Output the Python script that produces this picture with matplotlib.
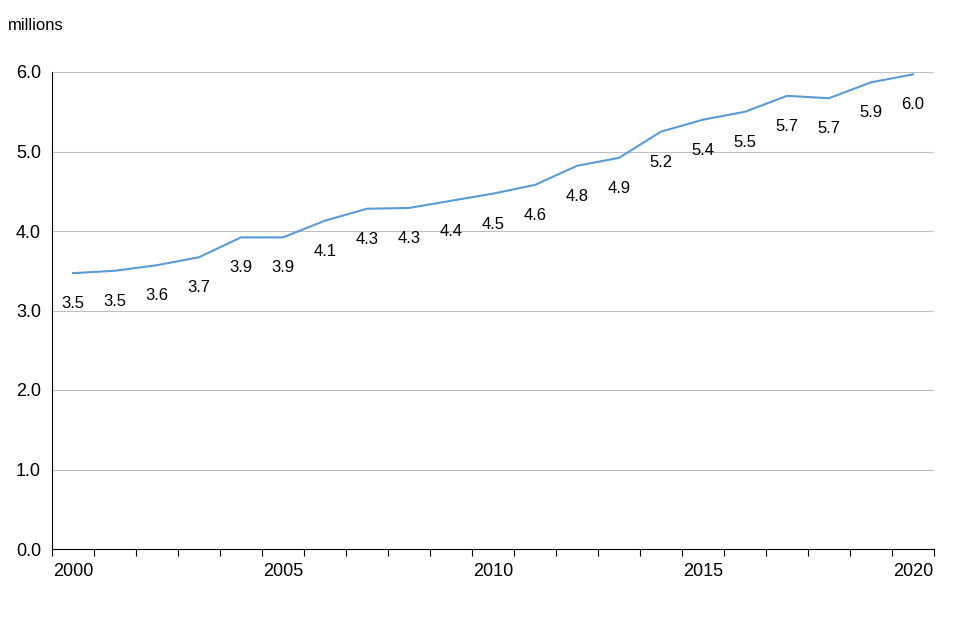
import matplotlib
matplotlib.use("Agg")
from matplotlib import pyplot as plt

years = list(range(2000, 2021))
values = [3.47, 3.50, 3.57, 3.67, 3.92, 3.92, 4.13, 4.28, 4.29, 4.38, 4.47,
          4.58, 4.82, 4.92, 5.25, 5.40, 5.50, 5.70, 5.67, 5.87, 5.97]
labels = ["3.5", "3.5", "3.6", "3.7", "3.9", "3.9", "4.1", "4.3", "4.3", "4.4", "4.5",
          "4.6", "4.8", "4.9", "5.2", "5.4", "5.5", "5.7", "5.7", "5.9", "6.0"]
yticks = [0, 1, 2, 3, 4, 5, 6]

fig = plt.figure(figsize=(9.6, 6.4), dpi=100)
ax = fig.add_axes([52/960, 1 - 549/640, 882/960, 477/640])

xs = list(range(len(years)))
ax.plot(xs, values, color="#5b9bd5", lw=1.5)
for x, v, lab in zip(xs, values, labels):
    ax.annotate(lab, (x, v), xytext=(0, -22), textcoords="offset points",
                ha="center", va="center", fontsize=12, family="Liberation Sans")

ax.set_xlim(-0.5, len(years) - 0.5)
ax.set_ylim(0, 6)
ax.set_yticks(yticks)
ax.set_yticklabels([f"{t:.1f}" for t in yticks], fontsize=13, family="Liberation Sans")
ax.grid(axis="y", color="#bfbfbf", lw=0.8)
ax.set_axisbelow(True)

ax.set_xticks([i - 0.5 for i in range(len(years) + 1)])
ax.set_xticklabels([])
ax.set_xticks([i for i, y in enumerate(years) if y % 5 == 0], minor=True)
ax.set_xticklabels([str(y) for y in years if y % 5 == 0], minor=True,
                   fontsize=13, family="Liberation Sans")
ax.tick_params(axis="x", which="major", length=5, direction="out", color="black")
ax.tick_params(axis="x", which="minor", length=0, pad=10)
ax.tick_params(axis="y", length=0, pad=8)

for s in ["top", "right"]:
    ax.spines[s].set_visible(False)
ax.spines["left"].set_color("black")
ax.spines["bottom"].set_color("black")

fig.text(8/960, 1 - 25/640, "millions", fontsize=12, family="Liberation Sans", va="center")

fig.savefig("out.png", dpi=100)
